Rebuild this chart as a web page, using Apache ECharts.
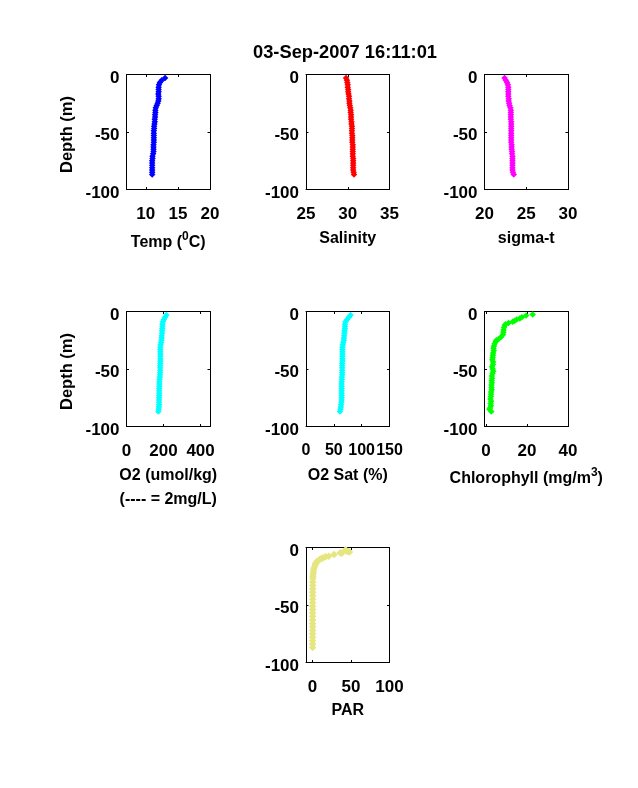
<!DOCTYPE html>
<html><head><meta charset="utf-8">
<style>html,body{margin:0;padding:0;background:#fff}#c{width:638px;height:788px}</style>
<script src="https://cdn.jsdelivr.net/npm/echarts@6/dist/echarts.min.js"></script>
</head><body><div id="c"></div>
<script>
const titleText = '03-Sep-2007 16:11:01';
const depth = [-3,-5,-7,-9,-11,-13,-15,-17,-19,-21,-23,-25,-27,-29,-31,-33,-35,-37,-39,-41,-43,-45,-47,-49,-51,-53,-55,-57,-59,-61,-63,-65,-67,-69,-71,-73,-75,-77,-79,-81,-83,-85,-87];
const temp = [13.0,12.5,12.2,12.05,12.0,12.0,12.0,11.95,12.0,12.0,11.95,11.85,11.7,11.55,11.5,11.5,11.45,11.45,11.4,11.4,11.35,11.3,11.3,11.25,11.25,11.25,11.25,11.25,11.25,11.2,11.2,11.2,11.2,11.15,11.05,11.05,11.0,11.0,11.0,11.0,11.0,11.0,11.0];
const salinity = [29.8,29.9,29.95,30.0,30.0,30.05,30.05,30.1,30.15,30.15,30.2,30.2,30.25,30.3,30.35,30.35,30.4,30.4,30.4,30.45,30.45,30.5,30.5,30.5,30.5,30.55,30.55,30.55,30.55,30.6,30.6,30.6,30.6,30.6,30.6,30.65,30.65,30.65,30.65,30.65,30.65,30.7,30.75];
const sigmaT = [22.4,22.55,22.7,22.8,22.85,22.85,22.85,22.85,22.85,22.9,22.9,22.95,23.0,23.1,23.15,23.15,23.15,23.15,23.15,23.2,23.2,23.2,23.2,23.2,23.2,23.2,23.2,23.2,23.2,23.25,23.25,23.25,23.3,23.3,23.35,23.35,23.35,23.35,23.35,23.35,23.35,23.4,23.5];
const o2 = [215,208,202,196,194,194,193,192,192,190,190,189,187,184,183,183,183,183,183,183,183,183,182,182,182,182,181,180,179,178,178,178,177,177,177,177,176,176,176,176,175,174,172];
const o2Sat = [80,77,74,71,70,70,70,69,69,68.5,68,68,67,66,65.5,65.5,65.5,65.5,65.5,65.5,65.5,65,65,65,65,65,65,64.5,64.5,64,64,64,64,64,64,64,64,64,63.5,63,62.5,62,61];
const chlDepth = [-2.5,-3.5,-5,-6,-7,-8,-9,-10,-11,-12,-14,-16,-18,-20,-22,-24,-25,-26,-28,-30,-32,-34,-36,-38,-40,-42,-44,-46,-48,-50,-52,-54,-56,-58,-60,-62,-64,-66,-68,-70,-72,-74,-76,-78,-80,-82,-84,-85,-87];
const chl = [22.8,19.6,17.5,16.5,15.0,14.0,13.0,11.0,9.6,9.2,8.8,8.6,8.5,8.3,7.5,6.2,5.1,4.8,4.2,3.9,3.7,3.8,3.5,3.4,3.3,3.1,3.5,3.4,3.0,3.3,3.6,3.2,2.9,3.0,2.8,2.9,2.7,2.7,2.8,2.5,2.5,2.4,2.2,2.5,2.3,2.4,2.0,1.7,2.6];
const parDepth = [-2,-3,-3.5,-4,-4.5,-5,-6,-7.5,-8,-9,-9.5,-10,-11,-12,-13,-14,-15,-17,-19,-21,-23,-25,-27,-30,-33,-36,-39,-42,-45,-48,-51,-54,-57,-60,-63,-66,-69,-72,-75,-78,-81,-84,-87];
const par = [43,44,46,48,36,38,28,21,17,14,12,10,8,6,5,4,3.5,2.5,1.5,1.2,0.8,0.5,0.4,0.3,0.3,0.2,0.2,0.2,0.2,0.1,0.1,0.1,0.1,0.1,0.1,0.1,0.1,0.1,0.1,0.1,0.1,0.1,0.1];
const depthTicks = [0,-50,-100];

const panels = [
 {l:126.5,t:74.5,x:temp,y:depth,c:'#0000ff',min:7,max:20,ticks:[10,15,20],name:'{a|Temp (}{s|0}{a|C)}',gap:41,size:6.5,tfs:17},
 {l:306,t:74.5,x:salinity,y:depth,c:'#ff0000',min:25,max:35,ticks:[25,30,35],name:'Salinity',gap:37,size:6.5,tfs:17},
 {l:484.5,t:74.5,x:sigmaT,y:depth,c:'#ff00ff',min:20,max:30,ticks:[20,25,30],name:'sigma-t',gap:37,size:6.5,tfs:17},
 {l:126.5,t:311.5,x:o2,y:depth,c:'#00ffff',min:0,max:451,ticks:[0,200,400],name:'O2 (umol/kg)\n(---- = 2mg/L)',gap:37,size:6.5,tfs:17},
 {l:306,t:311.5,x:o2Sat,y:depth,c:'#00ffff',min:0,max:150,ticks:[0,50,100,150],name:'O2 Sat (%)',gap:37,size:6.5,tfs:16},
 {l:484.5,t:311.5,x:chl,y:chlDepth,c:'#00ff00',min:-0.7,max:40,ticks:[0,20,40],name:'{a|Chlorophyll (mg/m}{s|3}{a|)}',gap:40,size:6.5,tfs:17},
 {l:306,t:547.5,x:par,y:parDepth,c:'#e6e680',min:-8.5,max:100,ticks:[0,50,100],name:'PAR',gap:36,size:7.5,tfs:17}
];
const W=83.5,H=115;
const font='"Liberation Sans"';
const NFS=16;
const nameStyle={fontFamily:font,fontSize:NFS,color:'#000',fontWeight:'bold',lineHeight:24,
  rich:{a:{fontFamily:font,fontSize:NFS,fontWeight:'bold',color:'#000'},s:{fontFamily:font,fontSize:12,fontWeight:'bold',color:'#000',verticalAlign:'top',padding:[0,0,8,0]}}};
const line={show:true,onZero:false,lineStyle:{color:'#000',width:1}};
const grid=[],xAxis=[],yAxis=[],series=[];
panels.forEach((p,i)=>{
  const lbl={fontFamily:font,fontSize:p.tfs,color:'#000',fontWeight:'bold'};
  const ylbl={fontFamily:font,fontSize:17,color:'#000',fontWeight:'bold'};
  grid.push({left:p.l,top:p.t,width:W,height:H,containLabel:false});
  const tick={show:true,inside:true,length:2.5,customValues:p.ticks,lineStyle:{color:'#000',width:1}};
  xAxis.push({gridIndex:i,type:'value',min:p.min,max:p.max,position:'bottom',splitLine:{show:false},axisLine:line,axisTick:tick,
    axisLabel:Object.assign({customValues:p.ticks,margin:16,showMinLabel:true,showMaxLabel:true,hideOverlap:false},lbl),
    name:p.name,nameLocation:'middle',nameGap:p.gap,nameTextStyle:nameStyle});
  xAxis.push({gridIndex:i,type:'value',min:p.min,max:p.max,position:'top',splitLine:{show:false},axisLine:line,axisTick:tick,axisLabel:{show:false}});
  const ytick={show:true,inside:true,length:2.5,customValues:depthTicks,lineStyle:{color:'#000',width:1}};
  const showName=i===0||i===3;
  yAxis.push({gridIndex:i,type:'value',min:-100,max:0,position:'left',splitLine:{show:false},axisLine:line,axisTick:ytick,
    axisLabel:Object.assign({customValues:depthTicks,margin:7,verticalAlign:'top',lineHeight:7,showMinLabel:true,showMaxLabel:true,hideOverlap:false},ylbl),
    name:showName?'Depth (m)':'',nameLocation:'middle',nameGap:51,nameRotate:90,nameTextStyle:{fontFamily:font,fontSize:16.5,fontWeight:'bold',color:'#000',padding:[0,5,0,0]}});
  yAxis.push({gridIndex:i,type:'value',min:-100,max:0,position:'right',splitLine:{show:false},axisLine:line,axisTick:ytick,axisLabel:{show:false}});
  series.push({type:'scatter',xAxisIndex:i*2,yAxisIndex:i*2,symbol:'diamond',symbolSize:p.size,silent:true,
    itemStyle:{color:p.c,opacity:1},data:p.x.map((v,k)=>[v,p.y[k]])});
});
const chart=echarts.init(document.getElementById('c'),null,{renderer:'canvas'});
chart.setOption({animation:false,backgroundColor:'#fff',
  title:{text:titleText,left:340,top:39,textAlign:'center',textStyle:{fontFamily:font,fontSize:18.3,fontWeight:'bold',color:'#000'}},
  grid,xAxis,yAxis,series});
</script></body></html>
